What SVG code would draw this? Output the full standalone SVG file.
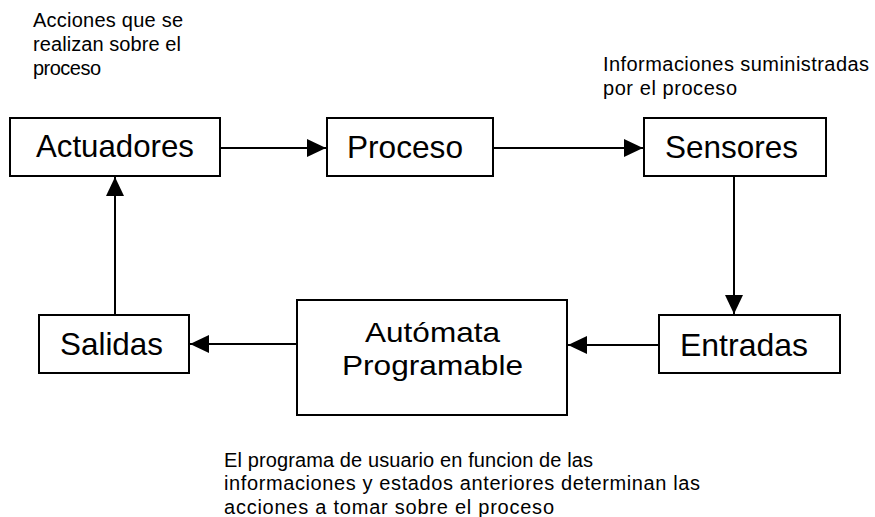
<svg xmlns="http://www.w3.org/2000/svg" width="875" height="517" viewBox="0 0 875 517">
<style>
.box{fill:#fff;stroke:#000;stroke-width:2}
.big{font-family:"Liberation Sans",Arial,sans-serif;font-size:31.5px;fill:#000}
.mid{font-family:"Liberation Sans",Arial,sans-serif;font-size:28.5px;fill:#000}
.small{font-family:"Liberation Sans",Arial,sans-serif;font-size:20px;fill:#000}
.conn{stroke:#000;stroke-width:2;fill:none;marker-end:url(#arr)}
</style>
<defs>
<marker id="arr" markerUnits="userSpaceOnUse" markerWidth="20" markerHeight="19" refX="19" refY="9" orient="auto">
<path d="M0,0 L19,9 L0,18 Z" fill="#000"/>
</marker>
</defs>
<rect width="875" height="517" fill="#fff"/>
<g id="connectors">
<line class="conn" x1="221" y1="148" x2="326" y2="148"/>
<line class="conn" x1="493" y1="148" x2="643" y2="148"/>
<line class="conn" x1="734" y1="177" x2="734" y2="314"/>
<line class="conn" x1="658" y1="345" x2="568" y2="345"/>
<line class="conn" x1="296" y1="344" x2="190" y2="344"/>
<line class="conn" x1="115" y1="314" x2="115" y2="177"/>
</g>
<g id="actuadores">
<rect class="box" x="10" y="118" width="210" height="58"/>
<text class="big" x="36" y="157" textLength="158" lengthAdjust="spacingAndGlyphs">Actuadores</text>
</g>
<g id="proceso">
<rect class="box" x="327" y="118" width="166" height="58"/>
<text class="big" x="347" y="158" textLength="116" lengthAdjust="spacingAndGlyphs">Proceso</text>
</g>
<g id="sensores">
<rect class="box" x="644" y="118" width="182" height="58"/>
<text class="big" x="665" y="158" textLength="133" lengthAdjust="spacingAndGlyphs">Sensores</text>
</g>
<g id="entradas">
<rect class="box" x="659" y="315" width="181" height="58"/>
<text class="big" x="680" y="356" textLength="128" lengthAdjust="spacingAndGlyphs">Entradas</text>
</g>
<g id="salidas">
<rect class="box" x="39" y="315" width="150" height="58"/>
<text class="big" x="60" y="355" textLength="103" lengthAdjust="spacingAndGlyphs">Salidas</text>
</g>
<g id="automata">
<rect class="box" x="297" y="300" width="270" height="115"/>
<text class="mid" x="365" y="342" textLength="135" lengthAdjust="spacingAndGlyphs">Autómata</text>
<text class="mid" x="342" y="375" textLength="181" lengthAdjust="spacingAndGlyphs">Programable</text>
</g>
<g id="note-acciones">
<text class="small" x="33" y="27" textLength="150" lengthAdjust="spacing">Acciones que se</text>
<text class="small" x="33" y="51" textLength="148" lengthAdjust="spacing">realizan sobre el</text>
<text class="small" x="33" y="75" textLength="68" lengthAdjust="spacing">proceso</text>
</g>
<g id="note-informaciones">
<text class="small" x="603" y="71" textLength="266" lengthAdjust="spacing">Informaciones suministradas</text>
<text class="small" x="603" y="95" textLength="134" lengthAdjust="spacing">por el proceso</text>
</g>
<g id="note-programa">
<text class="small" x="224" y="467" textLength="369" lengthAdjust="spacing">El programa de usuario en funcion de las</text>
<text class="small" x="224" y="490" textLength="476" lengthAdjust="spacing">informaciones y estados anteriores determinan las</text>
<text class="small" x="224" y="514" textLength="330" lengthAdjust="spacing">acciones a tomar sobre el proceso</text>
</g>
</svg>
